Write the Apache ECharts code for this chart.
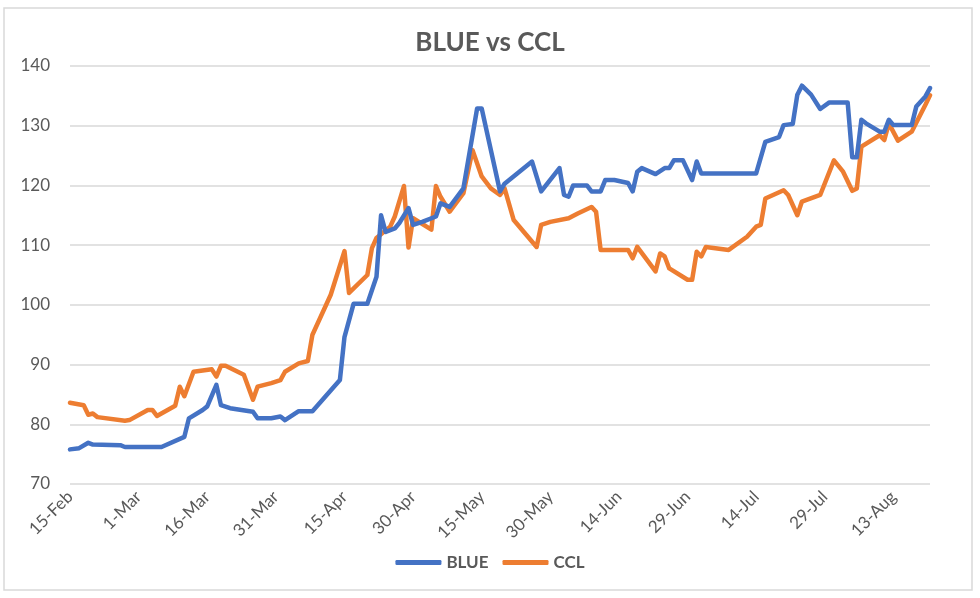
<!DOCTYPE html>
<html>
<head>
<meta charset="utf-8">
<script src="https://cdn.jsdelivr.net/npm/echarts@6/dist/echarts.min.js"></script>
<style>
html,body{margin:0;padding:0;background:#fff;}
#chart{width:980px;height:598px;}
</style>
</head>
<body>
<div id="chart"></div>
<script>
const startDate = '2020-02-15';
const endDate = '2020-08-21';
const tickStepDays = 15;
const yTicks = [70, 80, 90, 100, 110, 120, 130, 140];
const monthNames = ['Jan','Feb','Mar','Apr','May','Jun','Jul','Aug','Sep','Oct','Nov','Dec'];

const blueDates = ['2020-02-15','2020-02-17','2020-02-19','2020-02-20','2020-02-26','2020-02-27','2020-03-06','2020-03-11','2020-03-12','2020-03-15','2020-03-16','2020-03-18','2020-03-19','2020-03-21','2020-03-26','2020-03-27','2020-03-30','2020-04-01','2020-04-02','2020-04-05','2020-04-08','2020-04-14','2020-04-15','2020-04-17','2020-04-20','2020-04-22','2020-04-23','2020-04-24','2020-04-26','2020-04-27','2020-04-29','2020-04-30','2020-05-02','2020-05-05','2020-05-06','2020-05-08','2020-05-11','2020-05-14','2020-05-15','2020-05-19','2020-05-20','2020-05-26','2020-05-28','2020-06-01','2020-06-02','2020-06-03','2020-06-04','2020-06-07','2020-06-08','2020-06-10','2020-06-11','2020-06-13','2020-06-16','2020-06-17','2020-06-18','2020-06-19','2020-06-22','2020-06-24','2020-06-25','2020-06-26','2020-06-28','2020-06-30','2020-07-01','2020-07-02','2020-07-14','2020-07-16','2020-07-19','2020-07-20','2020-07-22','2020-07-23','2020-07-24','2020-07-26','2020-07-28','2020-07-30','2020-08-03','2020-08-04','2020-08-05','2020-08-06','2020-08-07','2020-08-10','2020-08-11','2020-08-12','2020-08-13','2020-08-17','2020-08-18','2020-08-20','2020-08-21'];
const blueValues = [75.8,76.0,76.9,76.6,76.5,76.2,76.2,77.9,81.0,82.4,83.0,86.6,83.2,82.7,82.1,81.0,81.0,81.3,80.7,82.2,82.2,87.4,94.6,100.2,100.2,104.7,115.0,112.2,112.8,113.7,116.2,113.4,113.9,114.8,117.0,116.4,119.5,132.9,132.9,119.0,120.3,124.0,119.0,122.9,118.4,118.1,120.0,120.0,119.0,119.0,120.9,120.9,120.4,119.0,122.3,122.9,121.9,122.9,122.9,124.2,124.2,120.9,124.0,122.0,122.0,127.3,128.1,130.1,130.3,135.2,136.7,135.2,132.8,133.9,133.9,124.7,124.7,131.0,130.4,129.0,129.0,131.0,130.1,130.1,133.2,134.9,136.3];

const cclDates = ['2020-02-15','2020-02-18','2020-02-19','2020-02-20','2020-02-21','2020-02-27','2020-02-28','2020-03-03','2020-03-04','2020-03-05','2020-03-09','2020-03-10','2020-03-11','2020-03-13','2020-03-17','2020-03-18','2020-03-19','2020-03-20','2020-03-24','2020-03-26','2020-03-27','2020-03-30','2020-04-01','2020-04-02','2020-04-05','2020-04-07','2020-04-08','2020-04-12','2020-04-15','2020-04-16','2020-04-20','2020-04-21','2020-04-22','2020-04-25','2020-04-26','2020-04-28','2020-04-29','2020-04-30','2020-05-04','2020-05-05','2020-05-06','2020-05-08','2020-05-11','2020-05-13','2020-05-15','2020-05-17','2020-05-19','2020-05-20','2020-05-22','2020-05-27','2020-05-28','2020-05-30','2020-06-03','2020-06-05','2020-06-08','2020-06-09','2020-06-10','2020-06-16','2020-06-17','2020-06-18','2020-06-22','2020-06-23','2020-06-24','2020-06-25','2020-06-29','2020-06-30','2020-07-01','2020-07-02','2020-07-03','2020-07-08','2020-07-12','2020-07-14','2020-07-15','2020-07-16','2020-07-20','2020-07-21','2020-07-23','2020-07-24','2020-07-28','2020-07-31','2020-08-02','2020-08-04','2020-08-05','2020-08-06','2020-08-10','2020-08-11','2020-08-12','2020-08-14','2020-08-17','2020-08-20','2020-08-21'];
const cclValues = [83.6,83.2,81.6,81.8,81.2,80.6,80.7,82.4,82.4,81.4,83.1,86.3,84.7,88.8,89.2,88.0,89.8,89.8,88.3,84.1,86.3,86.9,87.4,88.8,90.2,90.6,95.0,101.7,109.0,102.0,105.0,109.5,111.2,113.1,114.8,119.9,109.6,114.5,112.6,119.9,118.1,115.6,118.7,125.9,121.5,119.5,118.4,119.5,114.2,109.7,113.4,113.9,114.5,115.3,116.4,115.6,109.2,109.2,107.8,109.7,105.6,108.6,108.1,106.1,104.2,104.2,108.9,108.1,109.7,109.2,111.4,113.1,113.4,117.8,119.2,118.4,115.0,117.3,118.4,124.2,122.3,119.1,119.5,126.5,128.4,127.6,130.4,127.5,129.0,133.5,135.1];

const DAY = 86400000;
const t0 = Date.parse(startDate + 'T00:00:00Z');
function dayOffset(s){ return Math.round((Date.parse(s + 'T00:00:00Z') - t0) / DAY); }
function pairs(dates, vals){ return dates.map((d, i) => [dayOffset(d), vals[i]]); }
function fmtDay(v){
  if (Math.round(v) % tickStepDays !== 0) return '';
  const d = new Date(t0 + v * DAY);
  return d.getUTCDate() + '-' + monthNames[d.getUTCMonth()];
}

const chart = echarts.init(document.getElementById('chart'), null, {renderer: 'canvas'});
const grey = '#595959';
const font = 'Lato, "Liberation Sans", sans-serif';

chart.setOption({
  backgroundColor: '#ffffff',
  animation: false,
  title: {
    text: 'BLUE vs CCL',
    left: 'center',
    top: 25,
    textStyle: {color: grey, fontSize: 26, fontWeight: 'bold', fontFamily: font}
  },
  legend: {
    bottom: 22,
    left: 'center',
    itemWidth: 46,
    itemHeight: 5,
    itemGap: 14,
    icon: 'roundRect',
    textStyle: {color: grey, fontSize: 17, fontWeight: 'bold', fontFamily: font},
    data: ['BLUE', 'CCL']
  },
  grid: {left: 70, right: 50, top: 66, bottom: 114, containLabel: false},
  xAxis: {
    type: 'value',
    min: 0,
    max: dayOffset(endDate),
    interval: tickStepDays,
    axisLine: {show: false},
    axisTick: {show: false},
    splitLine: {show: false},
    axisLabel: {
      rotate: 45,
      margin: 10,
      color: grey,
      fontSize: 17,
      fontFamily: font,
      showMaxLabel: false,
      formatter: fmtDay
    }
  },
  yAxis: {
    type: 'value',
    min: yTicks[0],
    max: yTicks[yTicks.length - 1],
    interval: 10,
    axisLine: {show: false},
    axisTick: {show: false},
    splitLine: {lineStyle: {color: '#d9d9d9', width: 1.5}},
    axisLabel: {color: grey, fontSize: 17, fontFamily: font, margin: 20}
  },
  series: [
    {
      name: 'BLUE',
      type: 'line',
      data: pairs(blueDates, blueValues),
      showSymbol: false,
      symbol: 'none',
      color: '#4472C4',
      lineStyle: {width: 4.5, color: '#4472C4', cap: 'round', join: 'round'},
      z: 3
    },
    {
      name: 'CCL',
      type: 'line',
      data: pairs(cclDates, cclValues),
      showSymbol: false,
      symbol: 'none',
      color: '#ED7D31',
      lineStyle: {width: 4.5, color: '#ED7D31', cap: 'round', join: 'round'},
      z: 2
    }
  ],
  graphic: [
    {type: 'rect', shape: {x: 4, y: 8, width: 968, height: 582}, style: {fill: 'none', stroke: '#d9d9d9', lineWidth: 1.5}, silent: true}
  ]
});
</script>
</body>
</html>
